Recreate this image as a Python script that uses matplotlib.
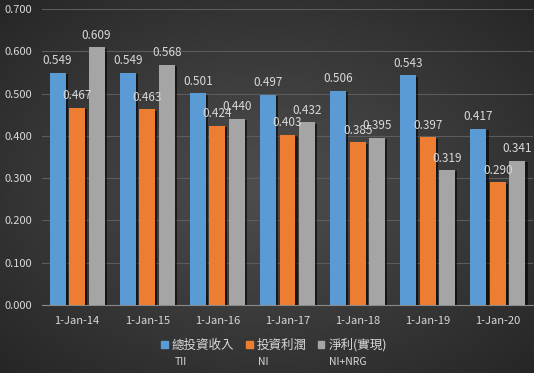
import numpy as np
import matplotlib.pyplot as plt
import matplotlib.patheffects as pe
from matplotlib.patches import Patch

plt.rcParams['font.family'] = ['Noto Sans CJK TC', 'DejaVu Sans']

dates = ["1-Jan-14", "1-Jan-15", "1-Jan-16", "1-Jan-17", "1-Jan-18", "1-Jan-19", "1-Jan-20"]
tii = [0.549, 0.549, 0.501, 0.497, 0.506, 0.543, 0.417]
ni = [0.467, 0.463, 0.424, 0.403, 0.385, 0.397, 0.290]
ni_nrg = [0.609, 0.568, 0.440, 0.432, 0.395, 0.319, 0.341]
names = ["總投資收入", "投資利潤", "淨利(實現)"]
codes = ["TII", "NI", "NI+NRG"]
colors = ["#5b9bd5", "#ed7d31", "#a5a5a5"]
txt = "#d9d9d9"

fig = plt.figure(figsize=(5.34, 3.73), dpi=100)

# radial gradient background
bg = fig.add_axes([0, 0, 1, 1], zorder=-10)
yy, xx = np.mgrid[-1:1:373j, -1:1:534j]
r = np.sqrt(xx**2 + yy**2) / np.sqrt(2)
bg.imshow(r, cmap=plt.matplotlib.colors.LinearSegmentedColormap.from_list("g", ["#4e4e4e", "#262626"]),
          aspect='auto', extent=[0, 1, 0, 1])
bg.axis('off')

ax = fig.add_axes([42/534, 1-305/373, 491/534, 296/373])
ax.patch.set_alpha(0)

x = np.arange(len(dates))
w = 0.228
step = 0.278
shadow = [pe.SimplePatchShadow(offset=(1.5, -1), shadow_rgbFace='black', alpha=0.6), pe.Normal()]
for i, vals in enumerate([tii, ni, ni_nrg]):
    bars = ax.bar(x + (i - 1) * step, vals, w, color=colors[i], zorder=3, path_effects=shadow)
    ax.bar_label(bars, labels=[f"{v:.3f}" for v in vals], padding=4, color=txt, fontsize=8.5, zorder=4)

ax.set_xlim(-0.5, 6.5)
ax.set_ylim(0, 0.7)
ax.set_yticks(np.arange(0, 0.71, 0.1))
ax.set_yticklabels([f"{v:.3f}" for v in np.arange(0, 0.71, 0.1)])
ax.set_xticks(x)
ax.set_xticklabels(dates)
ax.tick_params(colors=txt, labelsize=8, length=0, pad=8)
ax.tick_params(axis='y', pad=7)
ax.grid(axis='y', color='#5c5c5c', linewidth=0.8, zorder=0)
for s in ['top', 'right', 'left']:
    ax.spines[s].set_visible(False)
ax.spines['bottom'].set_color('#8a8a8a')

handles = [Patch(color=c) for c in colors]
fig.legend(handles, names, loc='center', bbox_to_anchor=(274/534, 1-345/373), ncol=3, frameon=False,
           fontsize=9, labelcolor=txt, handlelength=0.55, handleheight=0.55, handletextpad=0.3,
           columnspacing=0.9, borderpad=0)
for xp, c in zip([175, 258, 329], codes):
    fig.text(xp/534, 1-362/373, c, color=txt, fontsize=7.5, va='center', ha='left')

fig.savefig("out.png", dpi=100)
